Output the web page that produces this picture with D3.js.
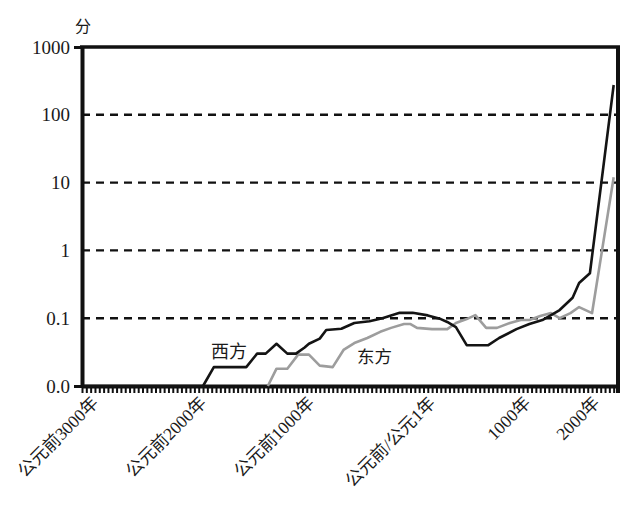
<!DOCTYPE html>
<html>
<head>
<meta charset="utf-8">
<script src="https://cdn.jsdelivr.net/npm/d3@7"></script>
<style>
  html, body { margin: 0; padding: 0; background: #fff; }
  svg { display: block; }
  text { font-family: "Liberation Serif", "Noto Sans CJK SC", serif; fill: #1a1a1a; }
</style>
</head>
<body>
<svg id="chart" width="628" height="505"></svg>
<script>
// ---- data (x = period index along the category axis, y = points, log scale) ----
const periodCount = 124;
const yTickValues = [0.01, 0.1, 1, 10, 100, 1000];
const yTickLabels = ["0.0", "0.1", "1", "10", "100", "1000"];
const xTickIndex = [4, 29, 54, 82, 104, 120];
const xTickLabels = ["公元前3000年", "公元前2000年", "公元前1000年", "公元前/公元1年", "1000年", "2000年"];

const westIndex = [0.5, 28, 30.5, 38, 40.5, 42.5, 45, 47.5, 49.5, 51.5, 52.5, 55, 56.5, 60, 63, 66.5, 69.5, 71.5, 73.5, 76.5, 80, 83, 84.5, 86.5, 89, 94, 96.5, 100.5, 103.5, 106.5, 108.5, 110.5, 113.5, 115, 117.5, 123];
const westValue = [0.01, 0.01, 0.019, 0.019, 0.03, 0.03, 0.042, 0.03, 0.03, 0.037, 0.042, 0.05, 0.067, 0.07, 0.085, 0.09, 0.1, 0.11, 0.12, 0.12, 0.11, 0.097, 0.088, 0.074, 0.04, 0.04, 0.051, 0.069, 0.082, 0.094, 0.111, 0.132, 0.2, 0.33, 0.46, 275];

const eastIndex = [43, 45, 47.5, 50, 52.5, 55, 58, 60.5, 63, 66, 69, 71.5, 74.5, 76, 77.5, 81, 84.5, 86.5, 89, 91, 93.5, 96, 99, 101.5, 103.5, 106, 108.5, 110.5, 113, 115, 118, 123];
const eastValue = [0.01, 0.018, 0.018, 0.029, 0.029, 0.02, 0.019, 0.034, 0.043, 0.051, 0.063, 0.072, 0.082, 0.082, 0.072, 0.069, 0.069, 0.085, 0.097, 0.111, 0.072, 0.072, 0.085, 0.094, 0.094, 0.108, 0.119, 0.1, 0.119, 0.146, 0.119, 12];

const seriesNames = ["西方", "东方"];
const unitLabel = "分";

// ---- layout ----
const svg = d3.select("#chart");
const mLeft = 82, mRight = 618, mTop = 47, mBottom = 386;

const x = d3.scaleLinear().domain([0, periodCount]).range([mLeft, mRight]);
const y = d3.scaleLog().domain([0.01, 1000]).range([mBottom, mTop]);

// dashed gridlines
svg.append("g").selectAll("line")
  .data(yTickValues.filter(v => v > 0.01 && v < 1000))
  .join("line")
  .attr("x1", mLeft).attr("x2", mRight)
  .attr("y1", d => y(d)).attr("y2", d => y(d))
  .attr("stroke", "#111").attr("stroke-width", 2.4)
  .attr("stroke-dasharray", "8,6");

// bottom axis with dense category ticks
const xAxis = d3.axisBottom(x)
  .tickValues(d3.range(0, periodCount + 1))
  .tickFormat("")
  .tickSize(7)
  .tickSizeOuter(0);
const gx = svg.append("g").attr("transform", `translate(0,${mBottom})`).call(xAxis);
gx.select(".domain").attr("stroke", "#111").attr("stroke-width", 4);
gx.selectAll(".tick line").attr("stroke", "#111").attr("stroke-width", 2);

// x labels rotated
svg.append("g").selectAll("text")
  .data(xTickIndex)
  .join("text")
  .attr("transform", d => `translate(${x(d)},404) rotate(-45)`)
  .attr("text-anchor", "end")
  .attr("font-size", 17.5)
  .text((d, i) => xTickLabels[i]);

// left axis
const yAxis = d3.axisLeft(y)
  .tickValues(yTickValues)
  .tickFormat((d, i) => yTickLabels[i])
  .tickSize(0)
  .tickPadding(12);
const gy = svg.append("g").attr("transform", `translate(${mLeft},0)`).call(yAxis);
gy.select(".domain").attr("stroke", "#111").attr("stroke-width", 4);
gy.selectAll(".tick text")
  .attr("font-size", 19)
  .attr("font-family", "Liberation Serif, serif")
  .attr("fill", "#1a1a1a");
gy.selectAll(".tick").filter(d => d === 0.01 || d === 1000)
  .append("line").attr("x1", -8).attr("x2", 0)
  .attr("stroke", "#111").attr("stroke-width", 3);

// frame top and right
svg.append("line").attr("x1", mLeft - 2).attr("x2", mRight + 2).attr("y1", mTop).attr("y2", mTop)
  .attr("stroke", "#111").attr("stroke-width", 3.5);
svg.append("line").attr("x1", mRight).attr("x2", mRight).attr("y1", mTop).attr("y2", mBottom + 7)
  .attr("stroke", "#111").attr("stroke-width", 4);

// lines
const line = d3.line().x(d => x(d[0])).y(d => y(d[1]));
const eastData = eastIndex.map((v, i) => [v, eastValue[i]]);
const westData = westIndex.map((v, i) => [v, westValue[i]]);

svg.append("path").datum(eastData)
  .attr("d", line).attr("fill", "none")
  .attr("stroke", "#9d9d9d").attr("stroke-width", 2.6).attr("stroke-linejoin", "round");
svg.append("path").datum(westData)
  .attr("d", line).attr("fill", "none")
  .attr("stroke", "#141414").attr("stroke-width", 2.6).attr("stroke-linejoin", "round");

// series labels
svg.append("text").attr("x", 211).attr("y", 358).attr("font-size", 18).text(seriesNames[0]);
svg.append("text").attr("x", 357).attr("y", 363).attr("font-size", 17.5).text(seriesNames[1]);

// unit label
svg.append("text").attr("x", 83).attr("y", 32).attr("text-anchor", "middle").attr("font-size", 16)
  .attr("fill", "#444").text(unitLabel);
</script>
</body>
</html>
